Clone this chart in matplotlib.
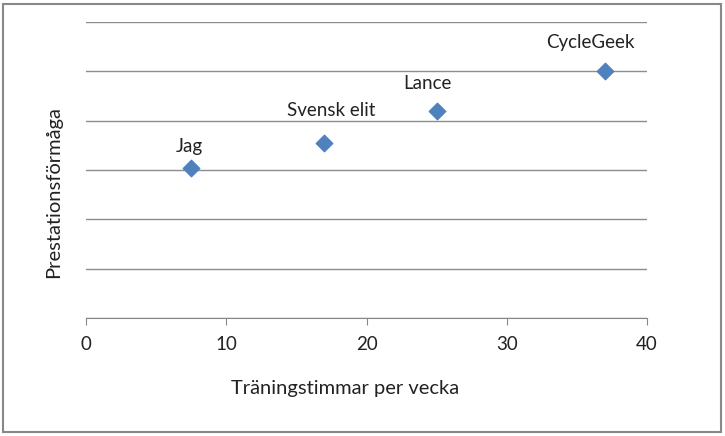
import matplotlib
matplotlib.use('Agg')
import matplotlib.pyplot as plt
from matplotlib.patches import Rectangle

plt.rcParams['font.family'] = ['Lato', 'DejaVu Sans']

names = ['Jag', 'Svensk elit', 'Lance', 'CycleGeek']
hours = [7.5, 17, 25, 37]
performance = [3.05, 3.55, 4.2, 5.0]
x_ticks = [0, 10, 20, 30, 40]

# label offsets from the marker, in pixels
label_dx = [-2, 7, -9, -15]
label_dy = [21, 32, 27, 29]

fig = plt.figure(figsize=(7.25, 4.36), dpi=100)
ax = fig.add_axes([86/725, 1-318/436, 561/725, 296/436])

ax.scatter(hours, performance, marker='D', s=70, color='#4F81BD', zorder=3)
for n, x, y, dx, dy in zip(names, hours, performance, label_dx, label_dy):
    ax.annotate(n, (x, y), xytext=(dx*0.72, dy*0.72), textcoords='offset points',
                ha='center', va='center', fontsize=13.5, color='#222222')

ax.set_xlim(0, 40)
ax.set_ylim(0, 6)
ax.set_xticks(x_ticks)
ax.set_yticks(range(0, 7))
ax.set_yticklabels([])
ax.tick_params(axis='y', length=0)
ax.tick_params(axis='x', length=5, color='#888888', labelsize=13.5, labelcolor='#222222', pad=8)
ax.grid(axis='y', color='#8c8c8c', linewidth=1)
for s in ['top', 'right', 'left']:
    ax.spines[s].set_visible(False)
ax.spines['bottom'].set_color('#888888')

fig.text(345/725, 1-388/436, 'Träningstimmar per vecka', ha='center', va='center',
         fontsize=14.5, color='#222222')
fig.text(54/725, 1-192/436, 'Prestationsförmåga', ha='center', va='center',
         rotation=90, fontsize=14.5, color='#222222')

fig.patches.append(Rectangle((3/725, 4/436), 718/725, 428/436, transform=fig.transFigure,
                             fill=False, edgecolor='#888888', linewidth=1.5))

fig.savefig('out.png', dpi=100)
